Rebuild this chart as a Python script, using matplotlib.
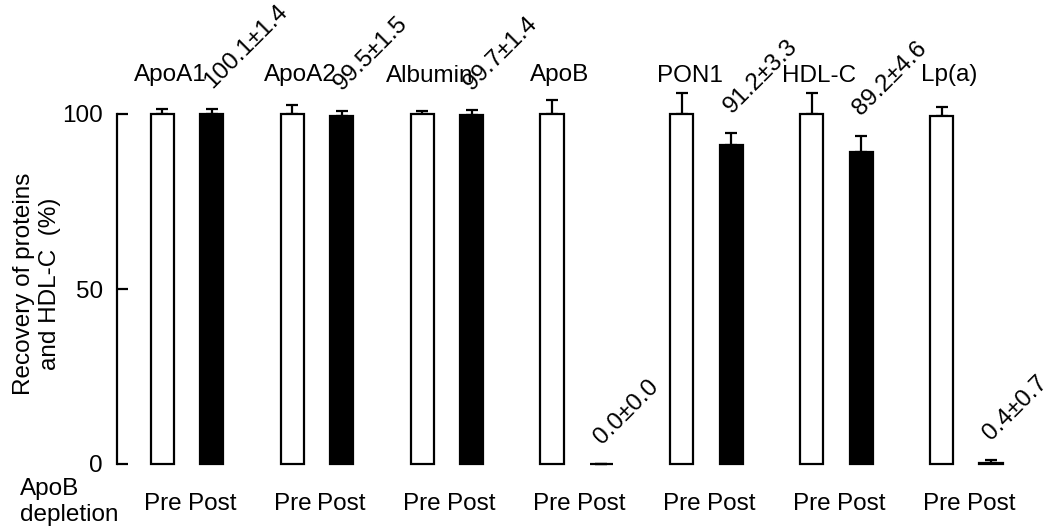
import numpy as np
import matplotlib.pyplot as plt

plt.rcParams['font.family'] = ['Liberation Sans', 'DejaVu Sans']

groups = ["ApoA1", "ApoA2", "Albumin", "ApoB", "PON1", "HDL-C", "Lp(a)"]
pre_mean = [100.0, 100.0, 100.0, 100.0, 100.0, 100.0, 99.4]
pre_err = [1.5, 2.6, 1.0, 4.0, 6.0, 6.0, 2.6]
post_mean = [100.1, 99.5, 99.7, 0.0, 91.2, 89.2, 0.4]
post_err = [1.4, 1.5, 1.4, 0.0, 3.3, 4.6, 0.7]
post_text = ["100.1±1.4", "99.5±1.5", "99.7±1.4", "0.0±0.0",
             "91.2±3.3", "89.2±4.6", "0.4±0.7"]

fs = 17.5

fig = plt.figure(figsize=(10.52, 5.31), dpi=100)
ax = fig.add_axes([117/1052, 53/531, 1 - 117/1052, 462/531])

g = np.arange(len(groups))
off = 0.19
w = 0.178
x_pre = g - off
x_post = g + off

ax.bar(x_pre, pre_mean, width=w, color='white', edgecolor='black', linewidth=1.6, zorder=2)
ax.bar(x_post, post_mean, width=w, color='black', edgecolor='black', linewidth=1.6, zorder=2)
ax.errorbar(x_pre, pre_mean, yerr=[np.zeros(len(g)), pre_err], fmt='none',
            ecolor='black', elinewidth=1.6, capsize=4.5, capthick=1.6, zorder=1)
ax.errorbar(x_post, post_mean, yerr=[np.zeros(len(g)), post_err], fmt='none',
            ecolor='black', elinewidth=1.6, capsize=4.5, capthick=1.6, zorder=1)

for i in range(len(groups)):
    ax.text(x_pre[i] + 0.06, 111, groups[i], ha='center', va='center', fontsize=fs)
    ax.text(x_post[i] + 0.03, post_mean[i] + post_err[i] + 4.5, post_text[i],
            rotation=45, rotation_mode='anchor', ha='left', va='bottom',
            fontsize=fs, clip_on=False)

ax.set_xlim(-0.54, 6.66)
ax.set_ylim(-4, 128)
ax.set_yticks([0, 50, 100])
ax.spines['left'].set_bounds(0, 100)
ax.spines['left'].set_linewidth(1.6)
for s in ['top', 'right', 'bottom']:
    ax.spines[s].set_visible(False)
ax.tick_params(axis='y', direction='in', length=8, width=1.6, pad=10, labelsize=fs)

ticks = np.concatenate([x_pre, x_post])
labels = ["Pre"] * len(g) + ["Post"] * len(g)
ax.set_xticks(ticks)
ax.set_xticklabels(labels)
ax.tick_params(axis='x', length=0, pad=11, labelsize=fs)

fig.text(37/1052, 1 - 284/531, "Recovery of proteins\nand HDL-C  (%)", rotation=90,
         ha='center', va='center', fontsize=fs, multialignment='center',
         linespacing=1.2)
fig.text(20/1052, 1 - 502/531, "ApoB\ndepletion", ha='left', va='center',
         fontsize=fs, multialignment='left', linespacing=1.2)

fig.savefig("out.png", dpi=100)
